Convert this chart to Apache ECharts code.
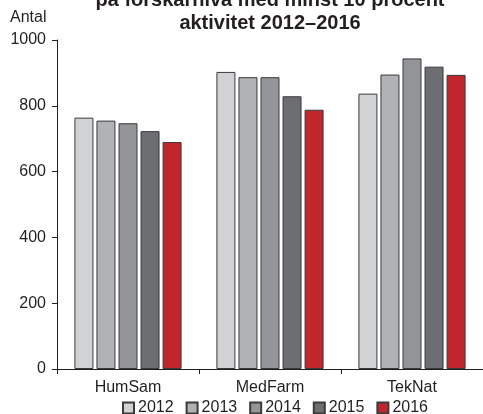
<!DOCTYPE html>
<html><head><meta charset="utf-8">
<script src="https://cdn.jsdelivr.net/npm/echarts@6/dist/echarts.min.js"></script>
<style>html,body{margin:0;padding:0;background:#fff}#c{width:483px;height:414px}</style>
</head><body><div id="c"></div>
<script>
const categories = ['HumSam', 'MedFarm', 'TekNat'];
const years = ['2012', '2013', '2014', '2015', '2016'];
const v2012 = [764, 903, 837];
const v2013 = [755, 887, 895];
const v2014 = [747, 887, 944];
const v2015 = [723, 829, 919];
const v2016 = [690, 788, 894];
const yTicks = [0, 200, 400, 600, 800, 1000];
const colors = ['#d1d2d4', '#b1b2b5', '#939598', '#6d6e71', '#c0272d'];
const seriesValues = [v2012, v2013, v2014, v2015, v2016];

const font = 'Liberation Sans, Arial, sans-serif';
const chart = echarts.init(document.getElementById('c'));
chart.setOption({
  animation: false,
  title: {
    text: 'på forskarnivå med minst 10 procent\naktivitet 2012–2016',
    left: 265, textAlign: 'center', top: -16,
    textStyle: { fontFamily: font, fontSize: 20, fontWeight: 'bold', color: '#231f20', lineHeight: 23 }
  },
  graphic: [{ type: 'text', left: 10, top: 10, style: { text: 'Antal', font: '16px ' + font, fill: '#231f20' } }],
  legend: {
    bottom: -7, left: 117, icon: 'rect',
    itemWidth: 11, itemHeight: 11, itemGap: 12,
    textStyle: { fontFamily: font, fontSize: 16, color: '#231f20', padding: [0, 0, 0, -1] },
    data: years
  },
  grid: { left: 57, right: 0, top: 40, bottom: 45 },
  xAxis: {
    type: 'category', data: categories,
    axisLine: { lineStyle: { color: '#231f20' } },
    axisTick: { show: true, length: 5, lineStyle: { color: '#231f20' } },
    axisLabel: { fontFamily: font, fontSize: 16, color: '#231f20', margin: 11 }
  },
  yAxis: {
    type: 'value', min: yTicks[0], max: yTicks[yTicks.length - 1], interval: 200,
    axisLine: { show: true, lineStyle: { color: '#231f20' } },
    axisTick: { show: true, length: 5, lineStyle: { color: '#231f20' } },
    splitLine: { show: false },
    axisLabel: { fontFamily: font, fontSize: 16, color: '#231f20', margin: 11, formatter: v => String(v) }
  },
  series: years.map((y, i) => ({
    name: y, type: 'bar', data: seriesValues[i],
    barWidth: 19, barGap: '16%',
    itemStyle: { color: colors[i], borderColor: '#3a3a3c', borderWidth: 1 }
  }))
});
</script></body></html>
